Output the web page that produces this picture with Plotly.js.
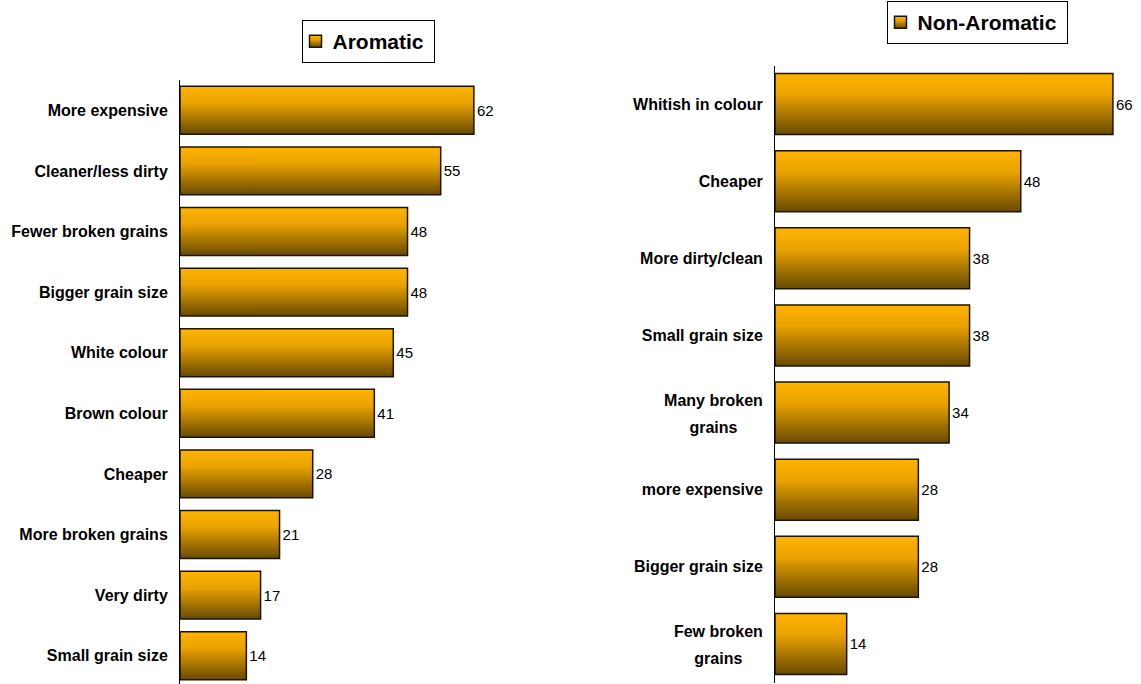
<!DOCTYPE html>
<html>
<head>
<meta charset="utf-8">
<script src="https://cdn.plot.ly/plotly-3.0.1.min.js"></script>
<style>html,body{margin:0;padding:0;background:#fff;}#chart{width:1141px;height:684px;}</style>
</head>
<body>
<div id="chart"></div>
<script>
// Aromatic panel
const aromaticCategories = ["More expensive","Cleaner/less dirty","Fewer broken grains","Bigger grain size","White colour","Brown colour","Cheaper","More broken grains","Very dirty","Small grain size"];
const aromaticValues = [62,55,48,48,45,41,28,21,17,14];
// Non-Aromatic panel
const nonAromaticCategories = ["Whitish in colour","Cheaper","More dirty/clean","Small grain size","Many broken<br>grains","more expensive","Bigger grain size","Few broken<br>grains"];
const nonAromaticValues = [66,48,38,38,34,28,28,14];

const W = 1141, H = 684;
const FONT = "Liberation Sans, Arial, sans-serif";
const barStyle = {color: "#c98a00", line: {color: "#1c1400", width: 1.5}};

const traces = [
  {
    type: "bar", orientation: "h", name: "Aromatic",
    y: aromaticCategories, x: aromaticValues,
    text: aromaticValues.map(String), textposition: "outside", cliponaxis: false,
    textfont: {family: FONT, size: 15, color: "#000"},
    marker: barStyle, xaxis: "x", yaxis: "y", legend: "legend", hoverinfo: "none"
  },
  {
    type: "bar", orientation: "h", name: "Non-Aromatic",
    y: nonAromaticCategories, x: nonAromaticValues,
    text: nonAromaticValues.map(String), textposition: "outside", cliponaxis: false,
    textfont: {family: FONT, size: 15, color: "#000"},
    marker: barStyle, xaxis: "x2", yaxis: "y2", legend: "legend2", hoverinfo: "none"
  }
];

const yCommon = {
  type: "category", showline: true, linecolor: "#000", linewidth: 1,
  showgrid: false, zeroline: false, ticks: "", ticklabelstandoff: 8,
  tickfont: {family: FONT, size: 16, color: "#000", weight: "bold"}
};
const xCommon = {showline: false, showgrid: false, zeroline: false, showticklabels: false, ticks: ""};

const layout = {
  width: W, height: H,
  margin: {l: 0, r: 0, t: 0, b: 0},
  paper_bgcolor: "#fff", plot_bgcolor: "rgba(0,0,0,0)",
  bargap: 0.21,
  showlegend: true,
  xaxis: Object.assign({}, xCommon, {domain: [180/W, 500/W], range: [0, 320/4.74], anchor: "y"}),
  yaxis: Object.assign({}, yCommon, {domain: [0, (H-80)/H], range: [9.467, -0.5], anchor: "x"}),
  xaxis2: Object.assign({}, xCommon, {domain: [775/W, 1130/W], range: [0, 355/5.12], anchor: "y2"}),
  yaxis2: Object.assign({}, yCommon, {domain: [1.5/H, (H-65.5)/H], range: [7.5, -0.5], anchor: "x2"}),
  legend: {
    x: 302/W, y: 1 - 20/H, xanchor: "left", yanchor: "top",
    bordercolor: "#000", borderwidth: 1, bgcolor: "#fff",
    font: {family: FONT, size: 21, color: "#000", weight: "bold"}
  },
  legend2: {
    x: 887/W, y: 1 - 1/H, xanchor: "left", yanchor: "top",
    bordercolor: "#000", borderwidth: 1, bgcolor: "#fff",
    font: {family: FONT, size: 21, color: "#000", weight: "bold"}
  }
};

function applyStyling(gd) {
  const NS = "http://www.w3.org/2000/svg";
  const svg = gd.querySelector("svg.main-svg");
  let defs = svg.querySelector("defs");
  if (!defs) { defs = document.createElementNS(NS, "defs"); svg.insertBefore(defs, svg.firstChild); }
  if (!document.getElementById("barGrad")) {
    const grad = document.createElementNS(NS, "linearGradient");
    grad.setAttribute("id", "barGrad");
    grad.setAttribute("x1", "0"); grad.setAttribute("y1", "0");
    grad.setAttribute("x2", "0"); grad.setAttribute("y2", "1");
    [["0", "#ffb400"], ["0.35", "#e9a200"], ["1", "#684a00"]].forEach(function(s) {
      const st = document.createElementNS(NS, "stop");
      st.setAttribute("offset", s[0]); st.setAttribute("stop-color", s[1]);
      grad.appendChild(st);
    });
    defs.appendChild(grad);
  }
  gd.querySelectorAll(".bars .point path, .legendpoints path").forEach(function(p) {
    p.style.fill = "url(#barGrad)";
  });

  // Centre multi-line tick labels and open up their line spacing
  gd.querySelectorAll(".ytick text, .y2tick text").forEach(function(t) {
    if (t.dataset.done) return;
    const lines = t.querySelectorAll("tspan.line");
    if (lines.length < 2) return;
    t.dataset.done = "1";
    let maxW = 0;
    lines.forEach(function(l) { maxW = Math.max(maxW, l.getComputedTextLength()); });
    const x0 = parseFloat(t.getAttribute("x"));
    const cx = x0 - maxW / 2;
    t.setAttribute("text-anchor", "middle");
    t.style.textAnchor = "middle";
    t.setAttribute("x", cx);
    lines.forEach(function(l, i) {
      l.setAttribute("x", cx);
      const dy = parseFloat(l.getAttribute("dy") || "0");
      if (i === 0) l.setAttribute("dy", (dy - 0.13) + "em");
      else l.setAttribute("dy", "1.56em");
    });
  });

  // Tighten legend boxes: symbol close to the left border, text right after it
  gd.querySelectorAll(".infolayer rect.bg").forEach(function(bg) {
    const lg = bg.parentNode;
    const pts = lg.querySelector(".legendpoints");
    const txt = lg.querySelector(".traces text");
    if (!pts || !txt || lg.dataset.done) return;
    lg.dataset.done = "1";
    const L = bg.getBoundingClientRect().left;
    const pL = pts.getBoundingClientRect().left;
    const dxp = (L + 7) - pL;
    const oldT = pts.getAttribute("transform") || "";
    pts.setAttribute("transform", oldT + " translate(" + dxp + ",0)");
    const tL = txt.getBoundingClientRect().left;
    const dxt = (L + 30) - tL;
    const oldTT = txt.getAttribute("transform") || "";
    txt.setAttribute("transform", oldTT + " translate(" + dxt + ",0)");
    const tR = txt.getBoundingClientRect().right;
    const newW = (tR + 11) - L;
    bg.setAttribute("width", newW);
    bg.style.width = newW + "px";
  });
}

Plotly.newPlot("chart", traces, layout, {displayModeBar: false, staticPlot: true}).then(function(gd) {
  applyStyling(gd);
  setTimeout(function() { applyStyling(gd); }, 50);
});
</script>
</body>
</html>
